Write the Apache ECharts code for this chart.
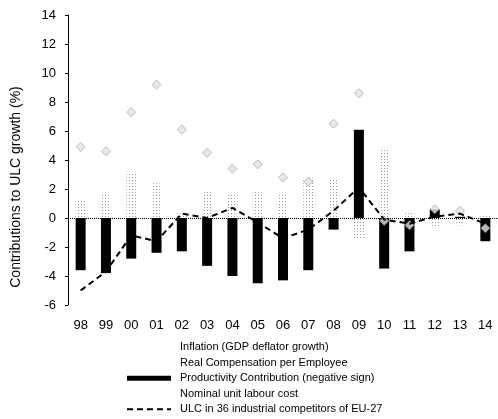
<!DOCTYPE html>
<html>
<head>
<meta charset="utf-8">
<script src="https://cdn.jsdelivr.net/npm/echarts@6/dist/echarts.min.js"></script>
<style>
  html, body { margin: 0; padding: 0; background: #fff; }
  #po { width: 498px; height: 419px; }
</style>
</head>
<body>
<div id="po"></div>
<script>
var years = ['98', '99', '00', '01', '02', '03', '04', '05', '06', '07', '08', '09', '10', '11', '12', '13', '14'];
var productivity = [-3.6, -3.8, -2.8, -2.4, -2.3, -3.3, -4.0, -4.5, -4.3, -3.6, -0.8, 6.1, -3.5, -2.3, 0.6, 0.1, -1.6];
var realComp = [1.2, 1.7, 3.2, 2.4, 0.5, 1.8, 1.6, 1.8, 1.7, 2.8, 2.8, -1.5, 4.8, 0.5, -0.6, -0.5, 0.2];
var inflation = [7.3, 6.7, 6.9, 9.2, 7.9, 6.0, 5.8, 6.4, 5.4, 3.3, 4.5, 4.0, -1.5, 1.3, 0.6, 0.9, 0.7];
var nominalUlc = [4.9, 4.6, 7.3, 9.2, 6.1, 4.5, 3.4, 3.7, 2.8, 2.5, 6.5, 8.6, -0.2, -0.5, 0.6, 0.5, -0.7];
var competitorsUlc = [-5.0, -3.7, -1.2, -1.6, 0.3, 0.0, 0.7, -0.3, -1.4, -0.8, 0.5, 2.1, -0.1, -0.4, 0.1, 0.3, -0.4];

var names = [
    'Inflation (GDP deflator growth)',
    'Real Compensation per Employee',
    'Productivity Contribution (negative sign)',
    'Nominal unit labour cost',
    'ULC in 36 industrial competitors of EU-27'
];
var font = 'Liberation Sans, Arial, sans-serif';

var myChart = echarts.init(document.getElementById('po'));
var option = {
    animation: false,
    backgroundColor: '#fff',
    grid: {left: 68, right: -2, top: 15, bottom: 114},
    legend: {
        orient: 'vertical',
        left: 126,
        top: 341,
        padding: 0,
        itemWidth: 44,
        itemHeight: 5,
        itemGap: 3,
        textStyle: {fontFamily: font, fontSize: 11, color: '#000', lineHeight: 12.5, padding: [0, 0, 0, 4]},
        data: [
            {name: names[0], icon: 'rect', itemStyle: {opacity: 0}},
            {name: names[1], icon: 'rect', itemStyle: {opacity: 0}},
            {name: names[2], icon: 'rect'},
            {name: names[3], icon: 'rect', itemStyle: {opacity: 0}},
            {name: names[4], itemStyle: {opacity: 0}}
        ]
    },
    graphic: [{
        type: 'text',
        x: 16,
        y: 187,
        rotation: Math.PI / 2,
        style: {
            text: 'Contributions to ULC growth (%)',
            font: '14px ' + font,
            fill: '#000',
            align: 'center',
            verticalAlign: 'middle'
        }
    }],
    xAxis: {
        type: 'category',
        data: years,
        axisLine: {show: false, onZero: false},
        axisTick: {show: false},
        axisLabel: {color: '#000', fontFamily: font, fontSize: 13, margin: 14}
    },
    yAxis: {
        type: 'value',
        min: -6,
        max: 14,
        interval: 2,
        axisLine: {show: true, lineStyle: {color: '#000', width: 1}},
        axisTick: {show: true, length: 3, lineStyle: {color: '#000'}},
        splitLine: {show: false},
        axisLabel: {color: '#000', fontFamily: font, fontSize: 13, margin: 12}
    },
    series: [
        {
            name: names[2],
            type: 'bar',
            stack: 'c',
            barWidth: 10,
            data: productivity,
            itemStyle: {color: '#000'},
            markLine: {
                silent: true,
                symbol: 'none',
                label: {show: false},
                lineStyle: {color: '#000', type: 'dotted', width: 1},
                data: [{yAxis: 0}]
            }
        },
        {
            name: names[1],
            type: 'bar',
            stack: 'c',
            data: realComp,
            itemStyle: {
                color: '#fff',
                decal: {
                    symbol: 'circle',
                    symbolSize: 1,
                    color: '#7a7a7a',
                    dashArrayX: [1, 2],
                    dashArrayY: [1, 2]
                }
            }
        },
        {
            name: names[0],
            type: 'bar',
            stack: 'c',
            data: inflation,
            itemStyle: {color: '#fff'}
        },
        {
            name: names[3],
            type: 'scatter',
            symbol: 'diamond',
            symbolSize: 9,
            z: 5,
            data: nominalUlc,
            itemStyle: {color: '#e4e4e4', borderColor: '#9a9a9a', borderWidth: 0.8}
        },
        {
            name: names[4],
            type: 'line',
            symbol: 'none',
            z: 6,
            data: competitorsUlc,
            lineStyle: {color: '#000', width: 2, type: [6, 4]}
        }
    ]
};
myChart.setOption(option);
</script>
</body>
</html>
